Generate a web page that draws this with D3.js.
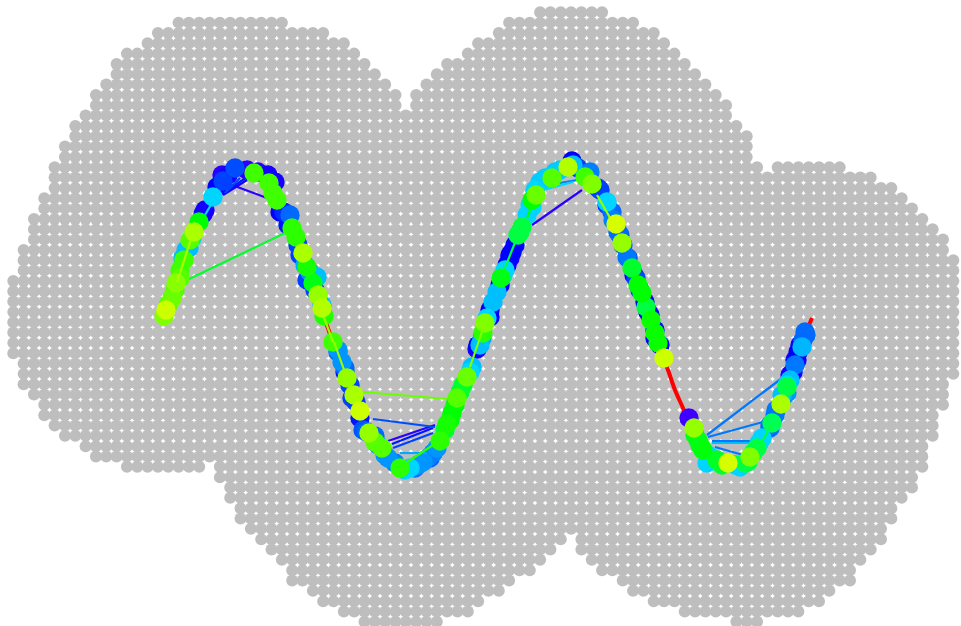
<!DOCTYPE html>
<html>
<head>
<meta charset="utf-8">
<style>html,body{margin:0;padding:0;background:#fff;overflow:hidden}svg{display:block}</style>
<script src="https://cdn.jsdelivr.net/npm/d3@7"></script>
</head>
<body>
<script>
// Grey map cells: one list per row, [first column, last column] of each run of cells
const gridRows = [
[[51,57]],[[16,26],[48,60]],[[14,30],[47,62]],[[13,32],[45,63]],[[11,33],[44,64]],
[[10,34],[42,65]],[[10,35],[41,66]],[[9,36],[40,67]],[[8,37],[39,68]],[[8,37],[39,69]],
[[7,69]],[[6,70]],[[6,71]],[[5,71]],[[5,71]],
[[4,72],[74,80]],[[4,83]],[[4,85]],[[3,86]],[[3,87]],
[[2,88]],[[2,89]],[[2,90]],[[1,90]],[[1,91]],
[[1,91]],[[0,91]],[[0,91]],[[0,91]],[[0,91]],
[[0,91]],[[0,91]],[[0,91]],[[0,91]],[[1,91]],
[[1,91]],[[1,90]],[[2,90]],[[3,90]],[[3,89]],
[[4,89]],[[5,89]],[[7,88]],[[8,88]],[[11,18],[20,88]],
[[20,87]],[[21,87]],[[21,86]],[[22,85]],[[22,85]],
[[23,84]],[[24,53],[55,84]],[[25,52],[55,83]],[[26,51],[56,82]],[[27,50],[57,81]],
[[27,48],[59,81]],[[29,47],[60,79]],[[30,45],[62,78]],[[32,44],[65,76]],[[34,41],[70,72]]
];

// Underlying signal (red curve)
const curveX = [4,20,38,55,75,95,112,130,150,165,180,200,220,240,260,280,300,320,340,360,380,400,415,432,452,475,495,508,515,523,528,545,565,582,600,620,635,645,652];
const curveY = [0,44,91,124,144,144,126,88,36,-4,-46,-99,-134,-152,-146,-126,-79,-24,31,84,126,148,151,134,94,36,-19,-54,-74,-92,-104,-136,-149,-149,-126,-86,-46,-19,-2];

// Observations: position and rainbow hue (degrees)
const pointX = [6,4,16,12,20,24,34,39,30,29,43,53,63,62,75,87,108,94,109,117,113,120,130,132,136,143,147,153,158,162,164,157,147,
173,182,187,194,200,209,222,215,203,228,240,250,263,273,280,287,297,292,307,312,317,325,323,333,341,343,330,352,358,362,376,372,372,392,408,413,412,425,432,447,456,462,472,467,478,482,486,491,495,498,504,529,534,538,543,547,557,568,580,585,590,597,599,612,621,627,623,630,635,633,642,646,
185,192,215,235,255,270,380,395,438,452,460,476,488,495,350,637,627,610,615,138,128,23,340,320,178,
8,15,20,26,32,45,57,68,98,115,124,140,145,150,155,162,178,185,190,196,200,207,218,225,
245,258,268,277,285,290,295,300,303,310,318,322,327,330,337,345,347,350,355,360,367,370,
375,385,400,418,430,440,447,453,458,463,468,474,480,485,490,495,500,
535,540,548,552,562,575,588,593,602,610,616,622,627,630,635,640,645,643,638];
const pointY = [6,0,33,18,46,56,84,94,76,68,102,119,135,141,148,146,141,143,133,116,123,104,101,88,79,63,49,33,21,8,0,39,36,
-26,-46,-62,-79,-95,-117,-132,-126,-114,-142,-152,-152,-146,-137,-125,-108,-82,-97,-61,-51,-33,-7,-17,14,38,41,-1,64,81,89,121,116,109,138,149,151,155,139,132,114,92,73,48,59,31,23,9,-4,-17,-27,-42,-102,-112,-124,-134,-147,-144,-147,-151,-147,-141,-132,-127,-107,-88,-71,-81,-64,-49,-56,-31,-19,
-56,-82,-120,-147,-152,-142,134,144,128,104,81,38,4,-22,58,-44,-77,-112,-99,71,91,58,31,-29,-36,
11,26,38,66,78,106,129,141,144,134,104,61,51,44,26,11,-34,-52,-69,-86,-102,-116,-129,-139,
-154,-149,-142,-132,-114,-104,-89,-76,-69,-56,-29,-22,-2,6,24,46,51,61,71,84,101,111,
126,138,146,148,144,126,111,96,84,71,58,41,26,14,1,-14,-29,
-119,-129,-139,-142,-149,-149,-146,-137,-122,-109,-94,-79,-69,-59,-44,-29,-16,-24,-36];
const pointHue = [72,90,88,95,105,105,80,120,100,195,245,190,225,250,222,250,245,105,105,105,105,240,215,110,110,80,115,125,85,78,112,195,225,
105,205,85,80,72,85,100,100,220,205,110,190,205,210,110,115,100,120,95,195,245,90,110,195,125,190,240,240,135,135,95,120,190,100,78,195,240,105,90,190,70,85,130,212,120,120,135,118,118,118,72,255,85,125,122,190,128,70,190,135,90,135,190,140,80,135,212,195,212,245,197,215,
235,225,215,210,215,220,192,192,225,215,218,225,240,240,245,245,205,215,212,225,235,195,240,195,215,
100,100,100,195,190,245,240,245,250,245,230,225,200,205,225,195,205,215,225,225,235,215,205,205,
190,205,210,205,130,120,120,130,130,190,240,200,190,240,195,190,240,240,240,135,190,190,
190,192,192,225,210,225,225,210,215,215,225,240,225,240,240,240,240,
125,125,190,190,130,190,135,135,190,215,212,195,190,245,245,245,215,215,240];

// Links between observations
const linkX1 = [25,72,63,65,68,17,45,203,213,228,232,233,240,240,173,187,372,383,388,437,341,367,310,547,548,552,552,555,552,602];
const linkY1 = [35,131,121,123,126,34,101,-76,-103,-125,-128,-132,-137,-151,-26,-62,91,126,131,121,38,98,-51,-119,-121,-127,-125,-131,-137,-126];
const linkX2 = [125,107,87,80,90,33,52,287,275,275,273,273,267,273,162,174,422,413,417,453,358,376,325,630,603,600,595,583,587,612];
const linkY2 = [83,118,136,138,141,83,113,-83,-111,-109,-112,-117,-137,-129,4,-26,126,134,136,93,81,121,-7,-56,-106,-127,-125,-139,-142,-107];
const linkHue = [130,250,245,225,235,80,190,95,222,250,235,225,200,110,85,85,250,190,210,85,135,120,90,212,212,195,212,212,135,135];

const W = 961, H = 626;
const svg = d3.select("body").append("svg").attr("width", W).attr("height", H);

const col = d3.scaleLinear().domain([0, 91]).range([13.3, 953.3]);
const row = d3.scaleLinear().domain([0, 59]).range([12.3, 621.8]);
const x = d3.scaleLinear().domain([0, 650]).range([160, 810]);
const y = d3.scaleLinear().domain([-160, 150]).range([476, 166]);
const rainbow = h => d3.hsl(h, 1, 0.5).formatHex();

const cells = gridRows.flatMap((runs, j) => runs.flatMap(([a, b]) => d3.range(a, b + 1).map(i => ({i, j}))));
svg.append("g").selectAll("circle").data(cells).join("circle")
  .attr("cx", d => col(d.i)).attr("cy", d => row(d.j)).attr("r", 6).attr("fill", "#bebebe");

const line = d3.line().x(d => x(d[0])).y(d => y(d[1])).curve(d3.curveCatmullRom);
svg.append("path").datum(d3.zip(curveX, curveY)).attr("d", line)
  .attr("fill", "none").attr("stroke", "#ff0000").attr("stroke-width", 4);

// Marks are painted from the blue end of the rainbow to the yellow end
const links = linkX1.map((v, k) => ({type: "link", x1: v, y1: linkY1[k], x2: linkX2[k], y2: linkY2[k], hue: linkHue[k]}));
const points = pointX.map((v, k) => ({type: "point", x: v, y: pointY[k], hue: pointHue[k]}));
const marks = links.concat(points).sort((a, b) => d3.descending(a.hue, b.hue));
const g = svg.append("g");
marks.forEach(m => {
  if (m.type === "link") {
    g.append("line").attr("x1", x(m.x1)).attr("y1", y(m.y1)).attr("x2", x(m.x2)).attr("y2", y(m.y2))
      .attr("stroke", rainbow(m.hue)).attr("stroke-width", 2.2);
  } else {
    g.append("circle").attr("cx", x(m.x)).attr("cy", y(m.y)).attr("r", 9.7).attr("fill", rainbow(m.hue));
  }
});
</script>
</body>
</html>
